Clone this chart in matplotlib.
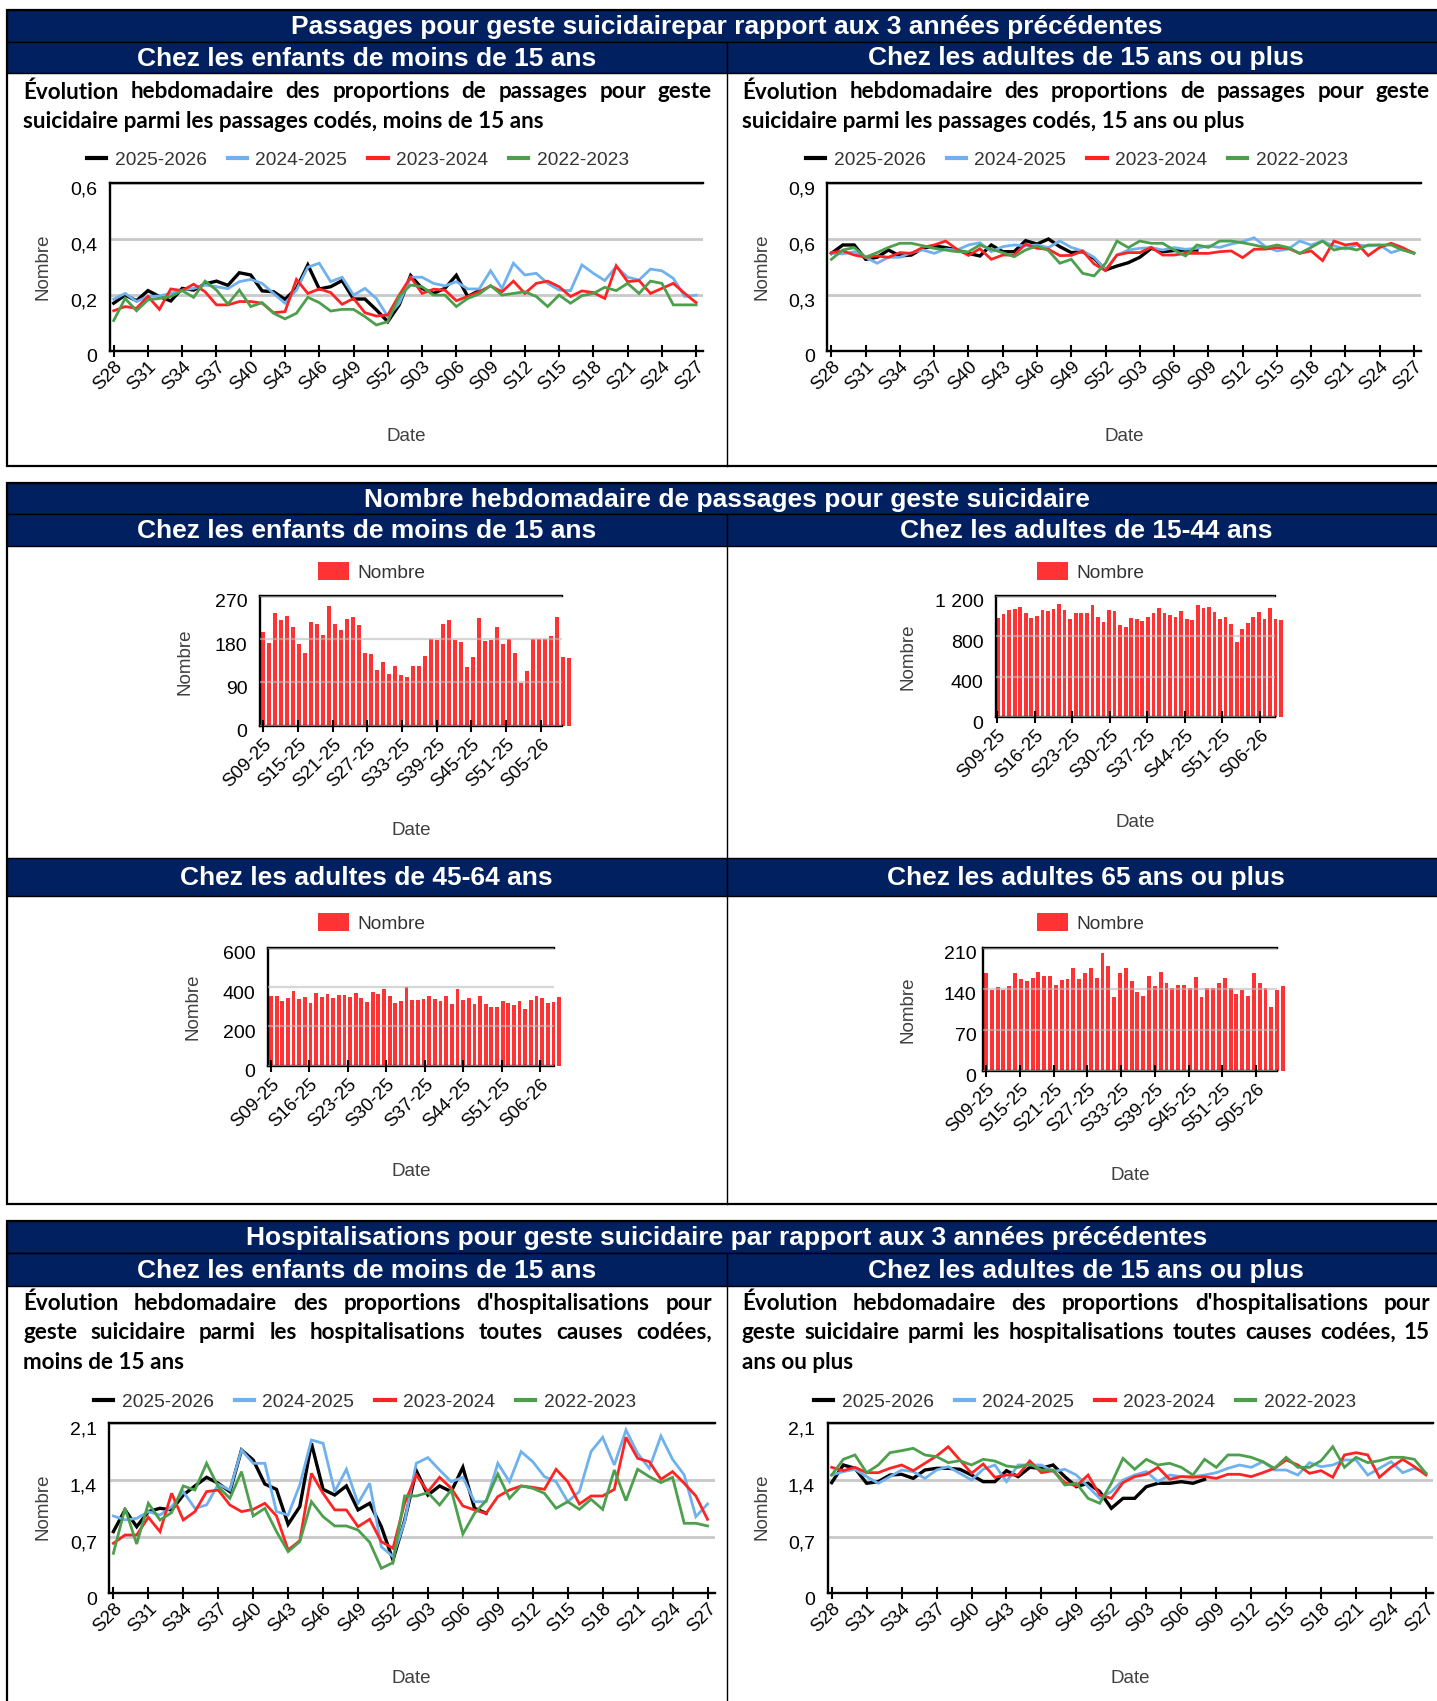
import numpy as np
import matplotlib
matplotlib.use("Agg")
import matplotlib.pyplot as plt
import matplotlib.transforms as mtransforms
from matplotlib.patches import Rectangle

W, H = 1437, 1701
NAVY = "#002060"
ROUGE_BARRE = "#FF3333"
COULEURS = {
    "2025-2026": "#000000",
    "2024-2025": "#6FB1EE",
    "2023-2024": "#FF2424",
    "2022-2023": "#4C9F4C",
}
POLICE = "Liberation Sans"
POLICE_TEXTE = "Lato"

# Axe des semaines (saison S28 -> S27) et des 52 dernières semaines
SEMAINES = [f"S{w:02d}" for w in list(range(28, 53)) + list(range(1, 28))]
SEMAINES_BARRES = [f"S{w:02d}-25" for w in range(9, 53)] + [f"S{w:02d}-26" for w in range(1, 9)]

# ---------------------------------------------------------------------------
# Passages pour geste suicidaire (proportion), moins de 15 ans
# ---------------------------------------------------------------------------
pe_2526 = [0.171, 0.200, 0.180, 0.216, 0.195, 0.179, 0.224, 0.218, 0.240, 0.250,
           0.235, 0.280, 0.272, 0.215, 0.212, 0.185, 0.224, 0.308, 0.222, 0.230,
           0.252, 0.186, 0.186, 0.147, 0.105, 0.165, 0.270, 0.224, 0.206, 0.224,
           0.271, 0.195, 0.216]
pe_2425 = [0.185, 0.206, 0.177, 0.195, 0.197, 0.206, 0.218, 0.224, 0.236, 0.230,
           0.223, 0.248, 0.256, 0.242, 0.206, 0.171, 0.218, 0.300, 0.314, 0.248,
           0.264, 0.200, 0.224, 0.188, 0.123, 0.171, 0.264, 0.264, 0.242, 0.233,
           0.248, 0.222, 0.222, 0.287, 0.224, 0.314, 0.272, 0.278, 0.242, 0.218,
           0.216, 0.308, 0.278, 0.252, 0.302, 0.264, 0.254, 0.293, 0.287, 0.260,
           0.195, 0.200]
pe_2324 = [0.144, 0.159, 0.153, 0.195, 0.149, 0.222, 0.216, 0.239, 0.212, 0.165,
           0.165, 0.177, 0.177, 0.171, 0.137, 0.141, 0.256, 0.206, 0.222, 0.209,
           0.167, 0.188, 0.137, 0.125, 0.129, 0.200, 0.264, 0.206, 0.221, 0.218,
           0.180, 0.195, 0.212, 0.233, 0.212, 0.250, 0.206, 0.242, 0.250, 0.230,
           0.195, 0.215, 0.209, 0.188, 0.305, 0.248, 0.252, 0.206, 0.224, 0.242,
           0.206, 0.173]
pe_2223 = [0.109, 0.188, 0.144, 0.183, 0.188, 0.195, 0.216, 0.192, 0.250, 0.218,
           0.168, 0.218, 0.159, 0.173, 0.135, 0.115, 0.135, 0.192, 0.173, 0.143,
           0.149, 0.149, 0.123, 0.093, 0.105, 0.195, 0.236, 0.230, 0.200, 0.200,
           0.159, 0.188, 0.204, 0.234, 0.200, 0.206, 0.212, 0.195, 0.159, 0.200,
           0.171, 0.198, 0.206, 0.228, 0.216, 0.242, 0.206, 0.250, 0.242, 0.165,
           0.165, 0.165]

# Passages, 15 ans ou plus
pa_2526 = [0.524, 0.569, 0.569, 0.492, 0.503, 0.542, 0.510, 0.515, 0.551, 0.564,
           0.555, 0.542, 0.524, 0.510, 0.569, 0.533, 0.533, 0.592, 0.574, 0.601,
           0.560, 0.528, 0.533, 0.497, 0.435, 0.456, 0.474, 0.503, 0.551, 0.533,
           0.539, 0.542, 0.542]
pa_2425 = [0.524, 0.521, 0.533, 0.503, 0.471, 0.503, 0.503, 0.528, 0.542, 0.524,
           0.547, 0.542, 0.569, 0.581, 0.533, 0.560, 0.569, 0.564, 0.569, 0.555,
           0.590, 0.556, 0.537, 0.503, 0.435, 0.515, 0.542, 0.551, 0.555, 0.542,
           0.555, 0.546, 0.551, 0.564, 0.556, 0.574, 0.587, 0.608, 0.560, 0.537,
           0.547, 0.590, 0.569, 0.590, 0.564, 0.547, 0.569, 0.564, 0.569, 0.528,
           0.547, 0.528]
pa_2324 = [0.528, 0.537, 0.515, 0.503, 0.510, 0.503, 0.528, 0.524, 0.556, 0.569,
           0.590, 0.546, 0.513, 0.549, 0.492, 0.515, 0.515, 0.574, 0.551, 0.546,
           0.512, 0.513, 0.537, 0.467, 0.431, 0.515, 0.528, 0.528, 0.556, 0.515,
           0.515, 0.524, 0.524, 0.524, 0.533, 0.537, 0.501, 0.546, 0.547, 0.555,
           0.551, 0.524, 0.537, 0.485, 0.590, 0.569, 0.578, 0.512, 0.556, 0.578,
           0.555, 0.524]
pa_2223 = [0.492, 0.542, 0.555, 0.503, 0.528, 0.556, 0.578, 0.578, 0.565, 0.551,
           0.542, 0.533, 0.533, 0.569, 0.546, 0.528, 0.506, 0.542, 0.564, 0.539,
           0.471, 0.492, 0.417, 0.403, 0.471, 0.590, 0.555, 0.590, 0.578, 0.578,
           0.542, 0.510, 0.569, 0.556, 0.590, 0.590, 0.581, 0.569, 0.555, 0.569,
           0.555, 0.524, 0.556, 0.590, 0.542, 0.555, 0.542, 0.569, 0.569, 0.569,
           0.542, 0.524]

# Hospitalisations (proportion), moins de 15 ans
he_2526 = [0.762, 1.030, 0.823, 1.009, 1.050, 1.030, 1.214, 1.326, 1.433, 1.359,
           1.256, 1.770, 1.647, 1.350, 1.284, 0.852, 1.070, 1.853, 1.284, 1.214,
           1.326, 1.030, 1.112, 0.823, 0.412, 0.900, 1.515, 1.214, 1.326, 1.256,
           1.556, 1.050, 0.988]
he_2425 = [0.955, 0.906, 0.926, 1.009, 0.967, 1.070, 1.256, 1.050, 1.091, 1.346,
           1.276, 1.770, 1.606, 1.606, 1.009, 0.967, 1.338, 1.894, 1.853, 1.256,
           1.532, 1.112, 1.359, 0.576, 0.453, 0.885, 1.606, 1.676, 1.523, 1.379,
           1.433, 1.132, 1.132, 1.606, 1.379, 1.750, 1.626, 1.441, 1.379, 1.132,
           1.256, 1.750, 1.927, 1.585, 2.017, 1.729, 1.544, 1.943, 1.655, 1.461,
           0.947, 1.103]
he_2324 = [0.618, 0.720, 0.720, 0.939, 0.762, 1.235, 0.906, 1.009, 1.256, 1.276,
           1.091, 1.009, 1.037, 1.112, 0.955, 0.535, 0.650, 1.482, 1.235, 1.030,
           1.030, 0.823, 0.914, 0.638, 0.556, 1.112, 1.461, 1.256, 1.433, 1.297,
           1.079, 1.030, 0.988, 1.194, 1.276, 1.326, 1.309, 1.284, 1.532, 1.379,
           1.103, 1.202, 1.202, 1.284, 1.927, 1.667, 1.626, 1.408, 1.503, 1.359,
           1.202, 0.914]
he_2223 = [0.494, 1.050, 0.609, 1.112, 0.906, 0.996, 1.326, 1.276, 1.606, 1.317,
           1.173, 1.503, 0.955, 1.050, 0.762, 0.515, 0.638, 1.132, 0.947, 0.832,
           0.832, 0.782, 0.630, 0.309, 0.379, 1.202, 1.202, 1.243, 1.091, 1.276,
           0.733, 0.988, 1.144, 1.474, 1.173, 1.326, 1.297, 1.235, 1.050, 1.132,
           1.037, 1.161, 1.037, 1.523, 1.144, 1.532, 1.441, 1.367, 1.433, 0.865,
           0.865, 0.832]

# Hospitalisations, 15 ans ou plus
ha_2526 = [1.367, 1.585, 1.544, 1.359, 1.379, 1.461, 1.470, 1.420, 1.523, 1.544,
           1.544, 1.532, 1.461, 1.379, 1.379, 1.515, 1.441, 1.556, 1.544, 1.585,
           1.441, 1.317, 1.359, 1.256, 1.050, 1.173, 1.173, 1.317, 1.359, 1.359,
           1.379, 1.359, 1.408]
ha_2425 = [1.461, 1.503, 1.532, 1.441, 1.359, 1.441, 1.523, 1.503, 1.420, 1.523,
           1.564, 1.482, 1.400, 1.532, 1.585, 1.379, 1.585, 1.585, 1.585, 1.503,
           1.532, 1.461, 1.317, 1.173, 1.256, 1.400, 1.461, 1.503, 1.379, 1.461,
           1.441, 1.441, 1.461, 1.490, 1.544, 1.585, 1.556, 1.626, 1.523, 1.523,
           1.461, 1.614, 1.564, 1.585, 1.647, 1.647, 1.461, 1.544, 1.626, 1.490,
           1.544, 1.482]
ha_2324 = [1.556, 1.515, 1.556, 1.490, 1.490, 1.544, 1.585, 1.515, 1.606, 1.696,
           1.811, 1.647, 1.482, 1.597, 1.433, 1.461, 1.461, 1.634, 1.490, 1.515,
           1.367, 1.326, 1.461, 1.214, 1.173, 1.367, 1.441, 1.470, 1.556, 1.408,
           1.441, 1.433, 1.441, 1.420, 1.470, 1.470, 1.441, 1.490, 1.544, 1.647,
           1.585, 1.482, 1.515, 1.433, 1.709, 1.737, 1.709, 1.433, 1.556, 1.655,
           1.564, 1.461]
ha_2223 = [1.461, 1.655, 1.709, 1.490, 1.585, 1.737, 1.762, 1.791, 1.709, 1.688,
           1.614, 1.638, 1.585, 1.655, 1.634, 1.573, 1.556, 1.597, 1.523, 1.523,
           1.338, 1.359, 1.173, 1.112, 1.359, 1.667, 1.532, 1.655, 1.585, 1.606,
           1.556, 1.461, 1.655, 1.556, 1.709, 1.709, 1.680, 1.626, 1.544, 1.680,
           1.556, 1.556, 1.638, 1.811, 1.556, 1.680, 1.614, 1.638, 1.680, 1.680,
           1.655, 1.482]

# ---------------------------------------------------------------------------
# Nombre hebdomadaire de passages (S09-25 -> S08-26)
# ---------------------------------------------------------------------------
nb_moins15 = [195, 171, 235, 219, 227, 205, 170, 152, 215, 211, 189, 249, 212,
              198, 222, 226, 209, 152, 148, 116, 132, 108, 125, 106, 101, 124,
              123, 145, 180, 179, 211, 220, 177, 174, 121, 143, 224, 176, 179,
              204, 170, 181, 150, 89, 114, 181, 181, 181, 187, 226, 142, 140]
nb_15_44 = [980, 1016, 1059, 1069, 1092, 1026, 977, 1000, 1059, 1046, 1072, 1115,
            1056, 970, 1026, 1026, 1026, 1112, 993, 941, 1062, 1049, 914, 891,
            980, 970, 951, 993, 1026, 1079, 1030, 1013, 993, 1053, 970, 957,
            1109, 1076, 1089, 1039, 974, 987, 921, 740, 872, 934, 993, 1036,
            970, 1082, 970, 957]
nb_45_64 = [356, 356, 331, 346, 380, 341, 349, 320, 368, 351, 366, 342, 359,
            361, 351, 369, 346, 325, 373, 366, 388, 356, 320, 327, 402, 336,
            334, 341, 356, 341, 331, 353, 315, 388, 336, 346, 315, 354, 315,
            297, 297, 327, 319, 308, 331, 290, 336, 354, 342, 320, 324, 349]
nb_65plus = [166, 138, 143, 137, 145, 167, 156, 153, 159, 169, 162, 161, 146,
             155, 156, 176, 156, 166, 176, 159, 201, 179, 125, 167, 176, 154,
             134, 128, 162, 145, 168, 149, 141, 146, 146, 142, 160, 125, 142,
             142, 149, 158, 141, 131, 138, 128, 166, 150, 141, 108, 138, 145]

fig = plt.figure(figsize=(W / 100, H / 100), dpi=100)

# fond en coordonnées pixels pour les cadres et les textes
bg = fig.add_axes([0, 0, 1, 1], zorder=-1)
bg.set_xlim(0, W)
bg.set_ylim(H, 0)
bg.axis("off")

# petit décalage vers le bas des valeurs de l'axe y
DECALAGE_Y = mtransforms.ScaledTranslation(0, -5 / 100, fig.dpi_scale_trans)


def zone(x0, y0, x1, y1):
    return [x0 / W, 1 - y1 / H, (x1 - x0) / W, (y1 - y0) / H]


def bandeau(y0, y1, textes, x0=7, x1=1446):
    n = len(textes)
    larg = (x1 - x0) / n
    for k, t in enumerate(textes):
        bg.add_patch(Rectangle((x0 + k * larg, y0), larg, y1 - y0, facecolor=NAVY,
                               edgecolor="black", lw=1, zorder=3))
        bg.text(x0 + (k + 0.5) * larg, (y0 + y1) / 2 + 1, t, ha="center", va="center",
                color="white", fontsize=19, fontweight="bold", family=POLICE, zorder=4)


def cadre(y0, y1, x0=7, x1=1446, milieu=727):
    bg.add_patch(Rectangle((x0, y0), x1 - x0, y1 - y0, facecolor="white",
                           edgecolor="black", lw=1.6, zorder=1))
    bg.plot([milieu, milieu], [y0, y1], color="black", lw=1, zorder=2)


def paragraphe(lignes, x0, x1, y0, dy=29.5):
    # texte justifié, la dernière ligne reste alignée à gauche
    rend = fig.canvas.get_renderer()
    style = dict(va="center", fontsize=16.2, fontweight="bold", family=POLICE_TEXTE,
                 color="black")
    for k, ligne in enumerate(lignes):
        y = y0 + k * dy
        if k == len(lignes) - 1:
            bg.text(x0, y, ligne, **style)
            continue
        mots = ligne.split()
        arts = [bg.text(0, y, m, **style) for m in mots]
        larg = [a.get_window_extent(rend).width for a in arts]
        esp = (x1 - x0 - sum(larg)) / (len(mots) - 1)
        x = x0
        for a, w in zip(arts, larg):
            a.set_x(x)
            x += w + esp


def etiquettes_axes(ax, box, ylab_xy, date_xy):
    x0, y0, x1, y1 = box
    ax.set_ylabel("Nombre", fontsize=13.5, color="#404040", family=POLICE)
    ax.yaxis.label.set_va("center")
    ax.yaxis.set_label_coords((ylab_xy[0] - x0) / (x1 - x0), (y1 - ylab_xy[1]) / (y1 - y0))
    ax.set_xlabel("Date", fontsize=13.5, color="#404040", family=POLICE)
    ax.xaxis.label.set_va("center")
    ax.xaxis.set_label_coords((date_xy[0] - x0) / (x1 - x0), (y1 - date_xy[1]) / (y1 - y0))


def valeurs_y(ax, yticks, ylabels, pad):
    ax.set_yticks(yticks)
    ax.set_yticklabels(ylabels)
    ax.tick_params(axis="y", length=0, pad=pad, labelsize=14)
    for t in ax.yaxis.get_major_ticks():
        t.label1.set_family(POLICE)
        t.label1.set_transform(t.label1.get_transform() + DECALAGE_Y)


def courbes(box, series, ymax, yticks, ylabels, leg_xy, ylab_xy, date_xy):
    ax = fig.add_axes(zone(*box))
    x = np.arange(len(SEMAINES))
    for saison, vals in series.items():
        ax.plot(x[:len(vals)], vals, color=COULEURS[saison], label=saison,
                lw=2.4 if saison == "2025-2026" else 2.0, solid_joinstyle="miter")
    ax.set_xlim(-0.35, 51.6)
    ax.set_ylim(0, ymax)
    valeurs_y(ax, yticks, ylabels, 9)
    idx = list(range(0, 52, 3))
    ax.set_xticks(idx)
    ax.set_xticklabels([SEMAINES[i] for i in idx], rotation=45, ha="right", va="top",
                       rotation_mode="anchor")
    ax.tick_params(axis="x", direction="inout", length=8, width=1.5, pad=1,
                   labelsize=13.5)
    for lab in ax.get_xticklabels():
        lab.set_family(POLICE)
    ax.grid(axis="y", color="#C8C8C8", lw=2)
    ax.set_axisbelow(True)
    ax.spines["right"].set_visible(False)
    for s in ("left", "bottom", "top"):
        ax.spines[s].set_linewidth(1.7)
    etiquettes_axes(ax, box, ylab_xy, date_xy)
    leg = ax.legend(loc="center", bbox_to_anchor=leg_xy, bbox_transform=bg.transData,
                    ncol=4, frameon=False, handlelength=1.0, handletextpad=0.45,
                    columnspacing=1.1, prop={"family": POLICE, "size": 13.8})
    for t in leg.get_texts():
        t.set_color("#333333")
    for l in leg.get_lines():
        l.set_linewidth(3)
    return ax


def barres(box, valeurs, ymax, yticks, ylabels, pas, xlim_ticks, xlim_barres,
           leg_xy, ylab_xy, date_xy, ypad=9):
    ax = fig.add_axes(zone(*box))
    x = np.arange(len(valeurs))
    ax.bar(x, valeurs, width=0.67, color=ROUGE_BARRE, clip_on=False, label="Nombre")
    ax.set_xlim(*xlim_barres)
    ax.set_ylim(0, ymax)
    valeurs_y(ax, yticks, ylabels, ypad)
    ax.set_xticks([])
    ax.grid(axis="y", color="#BBBBBB", lw=1.6, alpha=0.6)
    ax.set_axisbelow(False)
    ax.spines["right"].set_visible(False)
    for s in ("left", "bottom", "top"):
        ax.spines[s].set_linewidth(1.7)

    # graduations de semaines sur un second axe x
    axt = ax.twiny()
    axt.set_xlim(*xlim_ticks)
    idx = list(range(0, len(valeurs), pas))
    axt.xaxis.set_ticks_position("bottom")
    axt.set_xticks(idx)
    axt.set_xticklabels([SEMAINES_BARRES[i] for i in idx], rotation=45, ha="right",
                        va="top", rotation_mode="anchor")
    axt.tick_params(axis="x", direction="inout", length=8, width=1.5, pad=3,
                    labelsize=13.5, top=False, labeltop=False)
    for lab in axt.get_xticklabels():
        lab.set_family(POLICE)
    for s in axt.spines.values():
        s.set_visible(False)

    etiquettes_axes(ax, box, ylab_xy, date_xy)
    leg = ax.legend(loc="center", bbox_to_anchor=leg_xy, bbox_transform=bg.transData,
                    frameon=False, handlelength=1.6, handleheight=1.0,
                    handletextpad=0.45, prop={"family": POLICE, "size": 13.8})
    for t in leg.get_texts():
        t.set_color("#333333")
    return ax


# --- Bloc 1 : passages, proportions ----------------------------------------
cadre(10, 466)
bandeau(10, 42, ["Passages pour geste suicidairepar rapport aux 3 années précédentes"])
bandeau(42, 73, ["Chez les enfants de moins de 15 ans", "Chez les adultes de 15 ans ou plus"])
paragraphe(["Évolution hebdomadaire des proportions de passages pour geste",
            "suicidaire parmi les passages codés, moins de 15 ans"], 23, 712, 92)
paragraphe(["Évolution hebdomadaire des proportions de passages pour geste",
            "suicidaire parmi les passages codés, 15 ans ou plus"], 742, 1430, 92)

courbes((109.7, 183.3, 703, 351),
        {"2025-2026": pe_2526, "2024-2025": pe_2425, "2023-2024": pe_2324, "2022-2023": pe_2223},
        0.6, [0, 0.2, 0.4, 0.6], ["0", "0,2", "0,4", "0,6"],
        (358, 160), (43, 267), (406, 436))
courbes((827.4, 183.3, 1420.8, 351),
        {"2025-2026": pa_2526, "2024-2025": pa_2425, "2023-2024": pa_2324, "2022-2023": pa_2223},
        0.9, [0, 0.3, 0.6, 0.9], ["0", "0,3", "0,6", "0,9"],
        (1077, 160), (762, 267), (1124, 436))

# --- Bloc 2 : nombres hebdomadaires -----------------------------------------
cadre(483, 1204)
bandeau(483, 514, ["Nombre hebdomadaire de passages pour geste suicidaire"])
bandeau(514, 546, ["Chez les enfants de moins de 15 ans", "Chez les adultes de 15-44 ans"])
bandeau(858, 896, ["Chez les adultes de 45-64 ans", "Chez les adultes 65 ans ou plus"])

barres((260, 595.7, 562.3, 725.7), nb_moins15, 270, [0, 90, 180, 270],
       ["0", "90", "180", "270"], 6, (-0.57, 51.73), (-0.45, 49.93),
       (372, 572), (185, 662), (411, 830))
barres((996, 595.7, 1275, 717.3), nb_15_44, 1200, [0, 400, 800, 1200],
       ["0", "400", "800", "1 200"], 7, (-0.24, 51.8), (-0.36, 49.9),
       (1091, 572), (908, 657), (1135, 822))
barres((267.7, 947.7, 554.3, 1065.7), nb_45_64, 600, [0, 200, 400, 600],
       ["0", "200", "400", "600"], 7, (-0.6, 51.6), (-0.58, 50.14),
       (372, 923), (193, 1007), (411, 1171))
barres((983.3, 947.7, 1276.7, 1070.7), nb_65plus, 210, [0, 70, 140, 210],
       ["0", "70", "140", "210"], 6, (-0.48, 51.68), (-0.46, 49.92),
       (1091, 923), (908, 1010), (1130, 1175), ypad=5)

# --- Bloc 3 : hospitalisations ----------------------------------------------
cadre(1221, 1720)
bandeau(1221, 1253, ["Hospitalisations pour geste suicidaire par rapport aux 3 années précédentes"])
bandeau(1253, 1286, ["Chez les enfants de moins de 15 ans", "Chez les adultes de 15 ans ou plus"])
paragraphe(["Évolution hebdomadaire des proportions d'hospitalisations pour",
            "geste suicidaire parmi les hospitalisations toutes causes codées,",
            "moins de 15 ans"], 23, 712, 1303)
paragraphe(["Évolution hebdomadaire des proportions d'hospitalisations pour",
            "geste suicidaire parmi les hospitalisations toutes causes codées, 15",
            "ans ou plus"], 742, 1430, 1303)

courbes((109.3, 1423.3, 714.5, 1593.3),
        {"2025-2026": he_2526, "2024-2025": he_2425, "2023-2024": he_2324, "2022-2023": he_2223},
        2.1, [0, 0.7, 1.4, 2.1], ["0", "0,7", "1,4", "2,1"],
        (365, 1402), (43, 1507), (411, 1678))
courbes((827.6, 1423.3, 1433, 1593.3),
        {"2025-2026": ha_2526, "2024-2025": ha_2425, "2023-2024": ha_2324, "2022-2023": ha_2223},
        2.1, [0, 0.7, 1.4, 2.1], ["0", "0,7", "1,4", "2,1"],
        (1085, 1402), (762, 1507), (1130, 1678))

fig.savefig("out.png", dpi=100)
